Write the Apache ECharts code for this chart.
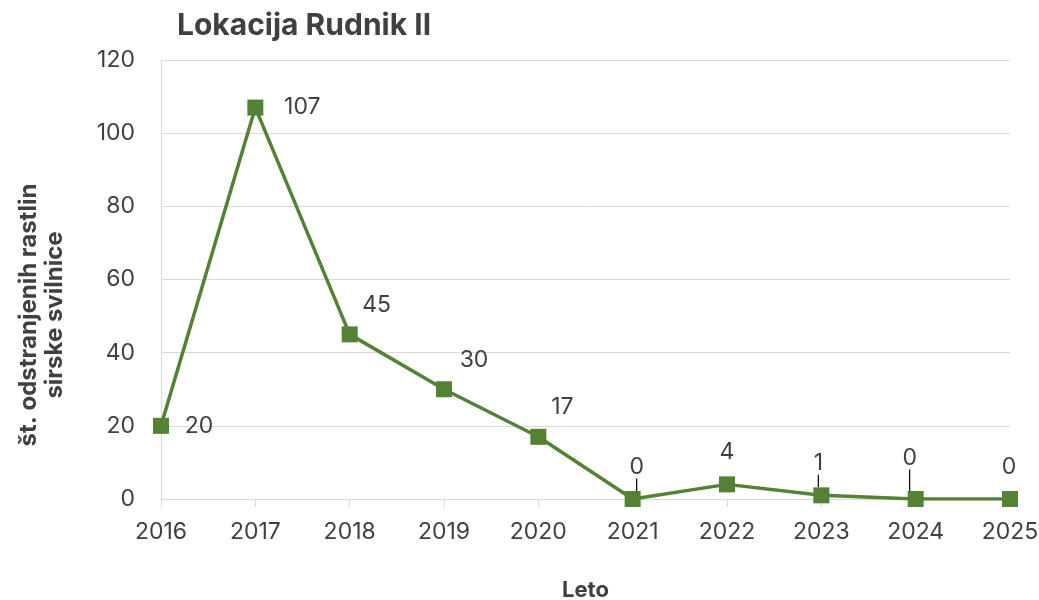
<!DOCTYPE html>
<html>
<head>
<meta charset="utf-8">
<script src="https://cdn.jsdelivr.net/npm/echarts@6/dist/echarts.min.js"></script>
<style>
  html, body { margin: 0; padding: 0; background: #fff; }
  #container { width: 1039px; height: 600px; }
</style>
</head>
<body>
<div id="container"></div>
<script>
var years = ['2016', '2017', '2018', '2019', '2020', '2021', '2022', '2023', '2024', '2025'];
var removed = [20, 107, 45, 30, 17, 0, 4, 1, 0, 0];
var yTicks = [0, 20, 40, 60, 80, 100, 120];

// where each data label sits relative to its point (px)
var labelShift = [[38, 0], [47, 0], [27, -29], [30, -29], [24, -30], [4, -32], [0, -32], [-3, -32], [-6, -41], [-1, -32]];
var withLeader = [5, 7, 8];

var fontFam = 'Inter, "Noto Sans", sans-serif';

var dom = document.getElementById('container');
var myChart = echarts.init(dom);
var option = null;

var seriesData = removed.map(function (v, i) {
    var item = { value: v };
    if (withLeader.indexOf(i) >= 0) {
        item.labelLine = { show: true, lineStyle: { color: '#000', width: 1.2 } };
    }
    return item;
});

option = {
    backgroundColor: '#fff',
    textStyle: { fontFamily: fontFam },
    title: {
        text: 'Lokacija Rudnik II',
        left: 172,
        top: 6,
        textStyle: { fontSize: 30, fontWeight: 'bold', color: '#404040', fontFamily: fontFam }
    },
    graphic: [
        {
            type: 'text',
            x: 42,
            y: 315,
            rotation: Math.PI / 2,
            style: {
                text: 'št. odstranjenih rastlin\nsirske svilnice',
                align: 'center',
                verticalAlign: 'middle',
                fontSize: 24,
                fontWeight: 'bold',
                fontFamily: fontFam,
                lineHeight: 26,
                fill: '#404040'
            }
        }
    ],
    grid: { left: 161, right: 29, top: 60, bottom: 101, outerBoundsMode: 'none' },
    xAxis: {
        type: 'category',
        data: years,
        boundaryGap: false,
        name: 'Leto',
        nameLocation: 'middle',
        nameGap: 80,
        nameTextStyle: { fontSize: 22, fontWeight: 'bold', color: '#404040' },
        axisLine: { lineStyle: { color: '#d9d9d9', width: 1 } },
        axisTick: { show: true, length: 8, alignWithLabel: true, lineStyle: { color: '#d9d9d9' } },
        axisLabel: { fontSize: 23, color: '#404040', margin: 22 },
        splitLine: { show: false }
    },
    yAxis: {
        type: 'value',
        min: yTicks[0],
        max: yTicks[yTicks.length - 1],
        interval: yTicks[1] - yTicks[0],
        axisLine: { show: true, lineStyle: { color: '#d9d9d9', width: 1 } },
        axisTick: { show: false },
        axisLabel: { fontSize: 23, color: '#404040', margin: 26 },
        splitLine: { lineStyle: { color: '#d9d9d9', width: 1 } }
    },
    series: [
        {
            name: 'Rudnik II',
            type: 'line',
            data: seriesData,
            symbol: 'rect',
            symbolSize: 16,
            lineStyle: { color: '#548235', width: 3.5 },
            itemStyle: { color: '#548235' },
            label: {
                show: true,
                position: 'inside',
                fontSize: 23,
                color: '#404040'
            },
            labelLayout: function (params) {
                var s = labelShift[params.dataIndex];
                return { dx: s[0], dy: s[1] };
            },
            z: 3
        }
    ]
};

if (option && typeof option === "object") {
    myChart.setOption(option, true);
}
</script>
</body>
</html>
